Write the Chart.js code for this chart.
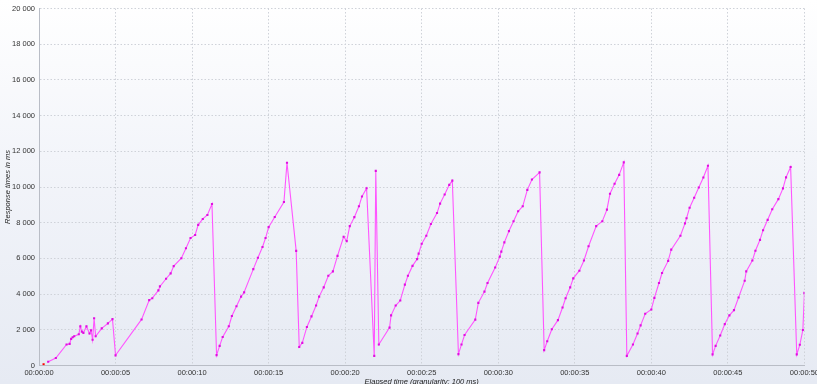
<!DOCTYPE html>
<html><head><meta charset="utf-8">
<script src="https://cdn.jsdelivr.net/npm/chart.js@4"></script>
<style>
html,body{margin:0;padding:0;overflow:hidden;width:817px;height:384px;}
body{background:linear-gradient(to bottom,#ffffff 0%,#f3f5fa 40%,#e6eaf3 100%);}
#wrap{position:absolute;left:0;top:0;width:822px;height:400px;}
</style></head><body>
<div id="wrap"><canvas id="c" width="822" height="400"></canvas></div>
<script>
// Elapsed time in seconds (100 ms granularity)
const elapsedSec = [
  0.6,1.1,1.8,2.0,2.1,2.2,2.3,2.6,2.7,2.8,2.9,3.1,3.3,3.4,3.5,3.6,3.7,4.1,4.5,4.8,
  5.0,6.7,7.2,7.4,7.8,7.9,8.3,8.6,8.8,9.3,9.6,9.9,10.2,10.4,10.7,11.0,11.3,
  11.6,11.8,12.0,12.4,12.6,12.9,13.2,13.4,14.0,14.3,14.6,14.8,15.0,15.4,16.0,16.2,16.8,
  17.0,17.2,17.5,17.8,18.1,18.3,18.6,18.9,19.2,19.5,19.9,20.1,20.3,20.6,20.9,21.1,21.4,
  21.9,22.0,22.2,22.9,23.0,23.3,23.6,23.9,24.1,24.4,24.7,24.8,25.0,25.3,25.6,26.0,26.2,26.5,26.8,27.0,
  27.4,27.6,27.8,28.5,28.7,29.1,29.3,29.8,30.1,30.2,30.4,30.7,31.0,31.3,31.6,31.9,32.2,32.7,
  33.0,33.2,33.5,33.9,34.2,34.4,34.7,34.9,35.3,35.6,35.9,36.4,36.8,37.1,37.3,37.6,37.9,38.2,
  38.4,38.8,39.1,39.3,39.6,40.0,40.2,40.5,40.7,41.1,41.3,41.9,42.2,42.3,42.5,42.8,43.1,43.4,43.7,
  44.0,44.2,44.5,44.8,45.1,45.4,45.7,46.1,46.2,46.6,46.8,47.1,47.3,47.6,47.9,48.3,48.6,48.8,49.1,
  49.5,49.7,49.9,50.0
];
// Response times in ms
const responseMs = [
  210,420,1180,1210,1490,1580,1640,1750,2190,1900,1830,2190,1790,1970,1440,2650,1640,2080,2360,2600,
  570,2580,3660,3770,4210,4430,4860,5160,5570,6010,6570,7140,7310,7880,8210,8430,9050,
  580,1100,1600,2200,2770,3320,3860,4100,5400,6040,6640,7140,7750,8320,9160,11360,6420,
  1040,1270,2160,2750,3360,3860,4380,5030,5270,6140,7210,6970,7810,8310,8920,9470,9930,
  540,10900,1180,2120,2810,3360,3640,4530,5030,5580,5960,6270,6820,7270,7930,8540,9070,9580,10120,10360,
  640,1180,1710,2570,3510,4140,4620,5490,6100,6380,6900,7530,8080,8640,8920,9840,10420,10820,
  860,1360,2030,2540,3250,3770,4380,4880,5310,5880,6680,7810,8080,8730,9620,10180,10680,11380,
  540,1180,1790,2250,2900,3140,3790,4620,5180,5860,6490,7270,7960,8250,8840,9400,9970,10530,11190,
  620,1100,1680,2320,2810,3100,3810,4750,5270,5880,6430,7040,7580,8160,8750,9320,9920,10540,11120,
  620,1160,1990,4070
];
// single red sample near the origin
const redSec = [0.3];
const redMs = [70];

const xTickStep = 5;
const yTickStep = 2000;
const xMax = 50;
const yMax = 20000;
const xTitle = 'Elapsed time (granularity: 100 ms)';
const yTitle = 'Response times in ms';

const pad2 = n => String(n).padStart(2, '0');
const fmtTime = v => { const s = Math.round(v); return '00:' + pad2(Math.floor(s/60)) + ':' + pad2(s%60); };
const fmtNum = v => String(v).replace(/\B(?=(\d{3})+(?!\d))/g, ' ');

const tickFont = {family: '"Liberation Sans", Arial, sans-serif', size: 7.5};
const titleFont = {family: '"Liberation Sans", Arial, sans-serif', size: 7.5, style: 'italic'};

new Chart(document.getElementById('c'), {
  type: 'line',
  data: {
    datasets: [
      {
        data: elapsedSec.map((t, i) => ({x: t, y: responseMs[i]})),
        borderColor: '#ff55ff',
        borderWidth: 1.1,
        pointStyle: 'rect',
        pointRadius: 1.5,
        pointBackgroundColor: '#e010e0',
        pointBorderWidth: 0,
        tension: 0,
        fill: false
      },
      {
        data: redSec.map((t, i) => ({x: t, y: redMs[i]})),
        showLine: false,
        pointStyle: 'rect',
        pointRadius: 1.5,
        pointBackgroundColor: '#ff0000',
        pointBorderWidth: 0
      }
    ]
  },
  options: {
    responsive: false,
    animation: false,
    devicePixelRatio: 1,
    layout: {padding: {top: 5.5, right: 14, left: 0, bottom: 0}},
    plugins: {legend: {display: false}, tooltip: {enabled: false}},
    scales: {
      x: {
        type: 'linear', min: 0, max: xMax,
        afterFit: s => { s.height = 34.5; },
        ticks: {stepSize: xTickStep, callback: fmtTime, font: tickFont, color: '#333', padding: 3, maxRotation: 0, autoSkip: false},
        grid: {color: '#cfd2d9', drawTicks: false, lineWidth: 1},
        border: {color: '#b9bdc6', width: 1, dash: [1.5, 2]},
        title: {display: true, text: xTitle, font: titleFont, color: '#222', padding: {top: 0, bottom: 14}}
      },
      y: {
        min: 0, max: yMax,
        afterFit: s => { s.width = 39; },
        ticks: {stepSize: yTickStep, callback: fmtNum, font: tickFont, color: '#333', padding: 4},
        grid: {color: '#cfd2d9', drawTicks: false, lineWidth: 1},
        border: {color: '#b9bdc6', width: 1, dash: [1.5, 2]},
        title: {display: true, text: yTitle, font: titleFont, color: '#222', padding: {top: 3.5, bottom: 0}}
      }
    }
  }
});
</script>
</body></html>
